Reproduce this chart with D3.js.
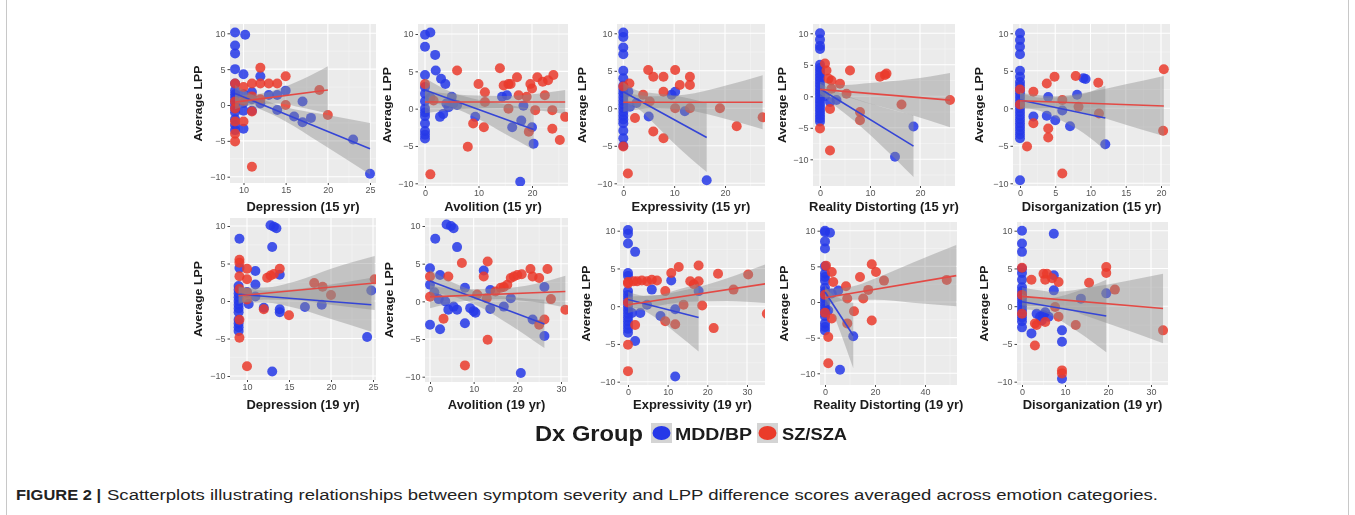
<!DOCTYPE html>
<html><head><meta charset="utf-8">
<script src="https://cdn.jsdelivr.net/npm/d3@7"></script>
<style>body{margin:0;background:#fff}svg{display:block}</style></head>
<body>
<svg id="c" width="1355" height="515"></svg>
<script>
// ---------- DATA ----------
const xTitles = ["Depression (15 yr)","Avolition (15 yr)","Expressivity (15 yr)","Reality Distorting (15 yr)","Disorganization (15 yr)",
                 "Depression (19 yr)","Avolition (19 yr)","Expressivity (19 yr)","Reality Distorting (19 yr)","Disorganization (19 yr)"];
const yTitle = "Average LPP";
const yTicks = [-10,-5,0,5,10];
const xTickSets = [[10,15,20,25],[0,10,20],[0,10,20],[0,10,20],[0,5,10,15,20],
                   [10,15,20,25],[0,10,20,30],[0,10,20,30],[0,20,40],[0,10,20,30]];
const groups = ["MDD/BP","SZ/SZA"];
const legendTitle = "Dx Group";
const captionLead = "FIGURE 2 |";
const captionText = "Scatterplots illustrating relationships between symptom severity and LPP difference scores averaged across emotion categories.";

// Panel 1: Depression 15
const mdd_dep15 = [[9,10.1],[10.2,9.8],[9,8.3],[9,7.2],[9,5],[10,4.3],[12,4],[9,3],[9,2],[9,1.5],[9,1],[9,0.5],[9,0],[9,-0.5],[9,-1],[9,-2],[9,-2.8],[9,-3.5],[10,-0.8],[10,-3.3],[10,1.5],[11,1.8],[11,-0.8],[12,0.2],[13,1.4],[14,1.4],[14,-0.7],[15,2],[16,-1.6],[17,0.5],[17,-2.4],[18,-1.8],[23,-4.8],[25,-9.6],[10,0.3],[11,0.8]];
const sz_dep15 = [[9,3],[9,0.5],[9,-0.5],[9,-2.3],[9,-4],[9,-5.1],[10,-2.3],[10,0.6],[11,3],[11,-0.9],[11,-8.6],[12,5.2],[12,3],[13,3],[14,3],[15,4],[15,0],[19,2.1],[20,-1.4],[10,2.5],[11,1.2],[12,0.8]];
const mddFit_dep15 = [[9,1.6],[25,-6.1]];
const szFit_dep15 = [[9,0.4],[20,2.1]];
const mddBand_dep15 = [[9,0.4,2.8],[12,-0.6,0.9],[15,-2.3,-0.3],[19,-5.2,-1.2],[25,-9.7,-2.5]];
const szBand_dep15 = [[9,-0.6,1.4],[11.5,0.1,1.5],[14,0.2,2.2],[17,-0.4,3.6],[20,-1.2,5.4]];

// Panel 2: Avolition 15
const mdd_avo15 = [[0,9.9],[1,10.2],[0,8.3],[1.9,7.2],[2,5.1],[3,4],[3.8,3.3],[0,4.5],[0,2.9],[0,2],[0,1],[0,0],[0,-0.5],[0,-1],[0,-2],[0,-3],[0,-3.5],[0,-4],[2.8,-1.1],[3.4,-0.7],[4,0.7],[5,1.6],[5.3,0.7],[4.4,0.2],[9.4,-1.1],[15.3,1.8],[14.4,1.6],[16.3,-2.5],[18,-1.6],[18.4,0.4],[20,-2.5],[20.3,-4.7],[17.8,-9.8],[1,1.5],[6,0.5]];
const sz_avo15 = [[0,3.3],[1,-8.8],[6,5.1],[8,-5.1],[9,-2],[10,3.3],[11,-2.5],[11.2,2.2],[14,5.4],[14.7,3.1],[15.6,3.3],[16,3.3],[17.2,4.2],[17.5,1.8],[19,1.6],[19.7,3.3],[20,2.7],[21,4.2],[22,3.6],[24,4.5],[23.8,-2.7],[23.8,-0.2],[20.6,-0.2],[19.4,-3.1],[15.6,0],[11.2,0.9],[1.6,1.1],[23,3.8],[26.2,-1.1],[25.2,-4.2],[22.4,1.8]];
const mddFit_avo15 = [[0,2.5],[20.3,-2.8]];
const szFit_avo15 = [[0,0.9],[26.2,0.9]];
const mddBand_avo15 = [[0,0.9,4.1],[5,0.2,2.2],[10,-1.4,1.2],[15,-3.4,0.6],[20.3,-5.5,-0.1]];
const szBand_avo15 = [[0,-0.6,2.4],[8,0,1.8],[15,0.1,1.7],[21,-0.2,2.0],[26.2,-0.7,2.5]];

// Panel 3: Expressivity 15
const mdd_exp15 = [[0,10.1],[0,9.5],[0,8.1],[0,7.2],[0,5],[0,4],[0,3],[0,2.5],[0,2],[0,1.5],[0,1],[0,0.5],[0,0],[0,-0.5],[0,-1],[0,-1.5],[0,-2],[0,-3],[0,-4],[0,-5],[1,2.2],[1.3,0.2],[5,-1.1],[9.5,1.8],[10.2,2.2],[12.1,-0.4],[16.4,-9.6],[2.6,0.7]];
const sz_exp15 = [[0,-5.1],[0.9,-8.7],[1.2,3.3],[2.3,-1.3],[3.9,1.8],[4.9,5.1],[5.9,4.2],[5.9,-3.1],[7.9,4.2],[7.9,2.2],[7.9,-4],[10.2,5.1],[11.1,3.1],[13.1,4.2],[13.1,3.1],[10.2,0],[13.1,0],[19,0],[22.3,-2.4],[27.4,-1.2],[5.2,0.9],[0,2.9]];
const mddFit_exp15 = [[0,2.2],[16.4,-3.9]];
const szFit_exp15 = [[0,0.8],[27.4,0.8]];
const mddBand_exp15 = [[0,0.9,3.5],[3,-0.1,2.3],[6,-2.0,2.0],[10,-4.7,1.7],[16.4,-8.5,0.7]];
const szBand_exp15 = [[0,-0.5,2.1],[6,0,1.6],[12,-0.2,1.8],[20,-1.4,3.0],[27.4,-2.8,4.4]];

// Panel 4: Reality Distorting 15
const mdd_rea15 = [[0,10],[0,9],[0,8],[0,7.5],[0,5],[0,4.5],[0,4],[0,3.5],[0,3],[0,2.5],[0,2],[0,1.5],[0,1],[0,0.5],[0,0],[0,-0.5],[0,-1],[0,-1.5],[0,-2],[0,-2.5],[0,-3],[0,-3.5],[0,-4],[2,-0.9],[3.3,-0.6],[18.7,-4.8],[15,-9.6],[1,0]];
const sz_rea15 = [[0,-5.1],[1,5.2],[1.3,4.1],[1.7,2.8],[2.3,2.5],[2,-2],[2,-8.6],[4,2],[5.3,0.4],[6,4.1],[8,-2.5],[8,-3.8],[12,3.1],[13,3.4],[13.3,3.6],[16.3,-1.3],[2.3,1.2],[26,-0.6]];
const mddFit_rea15 = [[0,1.2],[18.7,-7.9]];
const szFit_rea15 = [[0,1.1],[26,-0.6]];
const mddBand_rea15 = [[0,0.4,2.0],[3,-1.5,0.9],[7,-4,-0.4],[12,-7.6,-1.6],[18.7,-12.8,-3.0]];
const szBand_rea15 = [[0,-0.1,2.3],[5,-0.2,1.8],[10,-1.2,2.1],[18,-2.9,2.7],[26,-4.9,3.7]];

// Panel 5: Disorganization 15
const mdd_dis15 = [[0,10],[0,9.1],[0,8.2],[0,7.2],[0,5],[0,4.2],[0,3.5],[0,3],[0,2.5],[0,2],[0,1.5],[0,1],[0,0.5],[0,0],[0,-0.5],[0,-1],[0,-1.5],[0,-2],[0,-2.5],[0,-3],[0,-3.5],[0,-4],[0,-9.6],[1.9,-1.1],[3.8,-1],[5,-1.6],[4,1.5],[6,-0.3],[7.1,-2.4],[8.1,1.8],[9,4],[9.3,3.9],[12.1,-4.8]];
const sz_dis15 = [[1,-5.1],[1.9,2.2],[1.9,-2],[3.8,3.3],[4,-2.7],[4,-3.9],[4.9,4.2],[6,1.1],[6,-8.7],[7.9,4.3],[8.3,0.2],[11.1,3.4],[11.2,-0.7],[20.4,5.2],[20.3,-3.0],[0,2.5],[0,0.5]];
const mddFit_dis15 = [[0,1.1],[12.1,-1.3]];
const szFit_dis15 = [[0,1.0],[20.4,0.3]];
const mddBand_dis15 = [[0,0.1,2.1],[3,-0.4,1.4],[6,-1.7,1.5],[9,-3.3,1.9],[12.1,-5.6,3.0]];
const szBand_dis15 = [[0,-0.1,2.1],[5,0,1.6],[10,-0.8,2.2],[15,-2.2,3.2],[20.4,-3.7,4.3]];

// Panel 6: Depression 19
const mdd_dep19 = [[9.1,8.3],[12.8,10.1],[13.2,9.9],[13.5,9.7],[13,7.2],[9.1,4.4],[11,4],[9,2],[9,1.5],[9,1],[9,0.5],[9,0],[9,-0.5],[9,-1],[9,-1.5],[9,-2.5],[9,-3],[9,-3.5],[9,-4],[10.2,-0.4],[11,2.2],[12,-0.9],[13.9,3.5],[13.9,-1.1],[13.9,-1.5],[16.9,-0.8],[18.9,-0.5],[13,-9.4],[24.8,1.4],[24.3,-4.8],[10,1.2],[11,0.6]];
const sz_dep19 = [[9.1,5.5],[9.1,5.1],[9.1,3.3],[9.1,1.6],[9.1,-4.9],[10,-8.7],[10,4.3],[10,2.9],[10,1.1],[12.4,3.1],[12.8,3.4],[13.2,3.6],[13.9,4.3],[12,-1.1],[15,-1.9],[18,2.4],[19,1.9],[20,0.8],[25.2,2.9],[9.1,-2.5],[10,0.2]];
const mddFit_dep19 = [[9,0.9],[24.8,-0.5]];
const szFit_dep19 = [[9,0.7],[25.2,2.4]];
const mddBand_dep19 = [[9,-0.2,2.0],[12,-0.2,1.4],[16,-1.0,1.6],[20,-2.4,2.2],[24.8,-4.1,3.1]];
const szBand_dep19 = [[9,-0.4,1.8],[12,0.2,1.8],[16,0.1,2.7],[20,-0.5,4.3],[25.2,-1.2,6.0]];

// Panel 7: Avolition 19
const mdd_avo19 = [[3.8,10.2],[4.8,10],[5.4,9.7],[1.2,8.3],[6.2,7.2],[0,4.4],[2.3,3.5],[0,2.2],[0,-3.1],[2.3,-3.7],[3.5,0],[4.2,-1.1],[6.2,-1.1],[8,1.8],[8,-2.9],[9.2,-0.9],[10,-1.3],[10.4,-1.5],[12.3,4.1],[13.8,1.5],[13.8,-1],[16.9,-0.7],[18.5,0.4],[20.8,-9.5],[26.2,1.9],[26.2,-4.6],[5.4,-0.7],[23.5,-2.4],[1,1.2],[2,0.3]];
const sz_avo19 = [[0,3.3],[0,0.6],[3.1,-2.3],[4.2,3.3],[7.3,5.1],[8,-8.5],[12.3,3.3],[13.2,5.3],[13.2,-5.1],[10.8,0.9],[16.2,1.8],[16.9,1.9],[17.7,2.2],[18.5,3.1],[19.2,3.3],[20,3.5],[23,4.3],[23.5,3.3],[25,3.1],[26.9,4.3],[26.2,-2.4],[25,-3.1],[27.7,0.3],[31,-1.1],[13,0.4],[15,1.3],[21,3.6]];
const mddFit_avo19 = [[0,2.7],[26.2,-3.0]];
const szFit_avo19 = [[0,0.6],[31,1.3]];
const mddBand_avo19 = [[0,1.2,4.2],[6,0.5,2.3],[12,-0.9,1.1],[18,-3.0,0.6],[26.2,-6.2,0.2]];
const szBand_avo19 = [[0,-0.9,2.1],[8,0,1.6],[16,0.3,1.7],[24,-0.1,2.3],[31,-0.8,3.4]];

// Panel 8: Expressivity 19
const mdd_exp19 = [[0,10.1],[0,9.6],[0,8.3],[0,4.4],[0,4],[0,2],[0,1.5],[0,1],[0,0.5],[0,0],[0,-0.5],[0,-1],[0,-1.5],[0,-2],[0,-2.5],[0,-3],[0,-3.5],[1.8,7.2],[1.8,-4.6],[1,-0.9],[3.1,-0.9],[6,2.2],[8.2,-1.3],[10.9,3.4],[11.9,-0.4],[11.9,-9.3],[17.8,2],[4.8,0.2]];
const sz_exp19 = [[0,3.2],[0,3],[1.4,3.3],[2.3,3.3],[3.5,3.4],[4.8,3.3],[6,3.5],[7.3,3.4],[0,-5.1],[0,-8.6],[1.8,-2.5],[9.4,2],[9.4,-2],[10.9,4.4],[12.8,5.2],[11.9,-2.4],[14,0.2],[15.7,3.3],[16.6,2.9],[17.8,5.4],[17.8,3.3],[18.7,0.1],[21.6,-2.9],[22.7,4.3],[26.6,2.2],[30.3,4.2],[35,-1],[0,0.5]];
const mddFit_exp19 = [[0,0.9],[17.8,-1.5]];
const szFit_exp19 = [[0,0.2],[35,3.0]];
const mddBand_exp19 = [[0,-0.1,1.9],[4,-0.6,1.4],[8,-1.9,1.5],[12,-3.5,2.1],[17.8,-6.0,3.0]];
const szBand_exp19 = [[0,-0.9,1.3],[8,0.1,1.5],[15,0.6,2.2],[25,0.7,3.7],[35,0.4,5.6]];

// Panel 9: Reality Distorting 19
const mdd_rea19 = [[0,10],[0,9.8],[0,8.5],[0,7.5],[0,5],[0,4],[0,3.5],[0,3],[0,2],[0,1.5],[0,1],[0,0.5],[0,0],[0,-0.5],[0,-1],[0,-1.5],[0,-2],[0,-3],[0,-3.5],[0,-4],[2,9.7],[6,-9.5],[11.3,-4.8],[1.3,-1.2],[5.3,1.6],[2.7,1.2]];
const sz_rea19 = [[0.4,5.1],[2.7,4.2],[1.3,-4.9],[1.3,-8.6],[2.7,-2.3],[8.4,2.2],[8.9,0.5],[8.9,-3],[11.6,-1.3],[14,3.5],[15.3,0.5],[17.3,1.7],[18.7,5.3],[18.7,-2.6],[20.4,4.2],[23.6,3],[48.7,3.1],[3.3,2.8],[0,1],[0,-1.5]];
const mddFit_rea19 = [[0,1.4],[11.3,-4.7]];
const szFit_rea19 = [[0,0.6],[52.5,3.7]];
const mddBand_rea19 = [[0,0.5,2.3],[3,-1.4,1.0],[6,-4.1,0.5],[9,-7,0],[11.3,-9.3,-0.1]];
const szBand_rea19 = [[0,-0.6,1.8],[10,0.3,2.1],[20,0.3,3.3],[35,-0.1,5.5],[52.5,-0.6,8.0]];

// Panel 10: Disorganization 19
const mdd_dis19 = [[0,10],[0,8.3],[0,7.2],[0,5],[0,4.4],[0,3.5],[0,2.5],[0,2],[0,1.5],[0,1],[0,0.5],[0,0],[0,-0.5],[0,-1],[0,-1.5],[0,-2],[0,-2.8],[7.4,9.6],[2.2,-3.6],[3.4,-1],[4.2,-1.4],[5,-1.2],[5.4,-0.8],[6.2,-1.4],[7.4,4.1],[7.4,2.1],[9.3,-3.2],[9.3,-4.7],[9.3,-9.6],[13.7,1],[19.6,1.7],[4.6,-1.9]];
const sz_dis19 = [[0,5.1],[2.2,3.5],[3,-2.3],[3.4,-2.5],[3,-5.2],[5,4.3],[5.4,3.5],[5.8,4.3],[7,3.7],[8.5,3.2],[7.7,-0.1],[8.5,-1.4],[5.4,-2.1],[9.3,-8.5],[9.3,-8.9],[12.5,-2.5],[15.6,3.1],[19.6,5.2],[19.6,4.4],[21.6,2.2],[32.8,-3.2],[0,1.5],[0,-1]];
const mddFit_dis19 = [[0,0.6],[19.6,-1.3]];
const szFit_dis19 = [[0,1.3],[32.8,-0.3]];
const mddBand_dis19 = [[0,-0.4,1.6],[4,-0.6,1.0],[8,-1.6,1.2],[13,-3.4,2.0],[19.6,-6.1,3.5]];
const szBand_dis19 = [[0,0.1,2.5],[8,-0.1,1.9],[16,-1.5,2.5],[24,-3.1,3.3],[32.8,-4.9,4.3]];

// ---------- LAYOUT (pixel geometry, separate from data) ----------
const layout = [
 {rx:230,rw:146,ry:24,rh:159,xa:[10,25],xp:[243.5,370],yp:[33.3,176.7],yt:202,xt:211},
 {rx:418,rw:150,ry:24,rh:162,xa:[0,20],xp:[425,532],yp:[34,183.3],yt:391,xt:211},
 {rx:617,rw:148,ry:24,rh:162,xa:[0,20],xp:[623.3,725],yp:[33.3,183.3],yt:586,xt:211},
 {rx:813,rw:142,ry:24,rh:162,xa:[0,20],xp:[820,920],yp:[33.3,159.3],yt:786,xt:211},
 {rx:1013,rw:157,ry:24,rh:162,xa:[0,20],xp:[1020,1161],yp:[33.3,183.3],yt:983,xt:211},
 {rx:230,rw:146,ry:218,rh:162,xa:[10,25],xp:[247,373],yp:[226,376],yt:202,xt:409},
 {rx:425,rw:143,ry:218,rh:164,xa:[0,30],xp:[430,561],yp:[226,376.7],yt:393,xt:409},
 {rx:620,rw:145,ry:222,rh:163,xa:[0,30],xp:[628,747],yp:[230.7,381.7],yt:590,xt:409},
 {rx:820,rw:137,ry:222,rh:163,xa:[0,40],xp:[825,925],yp:[230.7,373.3],yt:788,xt:409},
 {rx:1017,rw:151,ry:222,rh:163,xa:[0,30],xp:[1022,1151],yp:[230.7,381.7],yt:988,xt:409}
];

const panels = [
 {mdd:mdd_dep15,sz:sz_dep15,mf:mddFit_dep15,sf:szFit_dep15,mb:mddBand_dep15,sb:szBand_dep15},
 {mdd:mdd_avo15,sz:sz_avo15,mf:mddFit_avo15,sf:szFit_avo15,mb:mddBand_avo15,sb:szBand_avo15},
 {mdd:mdd_exp15,sz:sz_exp15,mf:mddFit_exp15,sf:szFit_exp15,mb:mddBand_exp15,sb:szBand_exp15},
 {mdd:mdd_rea15,sz:sz_rea15,mf:mddFit_rea15,sf:szFit_rea15,mb:mddBand_rea15,sb:szBand_rea15},
 {mdd:mdd_dis15,sz:sz_dis15,mf:mddFit_dis15,sf:szFit_dis15,mb:mddBand_dis15,sb:szBand_dis15},
 {mdd:mdd_dep19,sz:sz_dep19,mf:mddFit_dep19,sf:szFit_dep19,mb:mddBand_dep19,sb:szBand_dep19},
 {mdd:mdd_avo19,sz:sz_avo19,mf:mddFit_avo19,sf:szFit_avo19,mb:mddBand_avo19,sb:szBand_avo19},
 {mdd:mdd_exp19,sz:sz_exp19,mf:mddFit_exp19,sf:szFit_exp19,mb:mddBand_exp19,sb:szBand_exp19},
 {mdd:mdd_rea19,sz:sz_rea19,mf:mddFit_rea19,sf:szFit_rea19,mb:mddBand_rea19,sb:szBand_rea19},
 {mdd:mdd_dis19,sz:sz_dis19,mf:mddFit_dis19,sf:szFit_dis19,mb:mddBand_dis19,sb:szBand_dis19}
];

const BLUE = "#2638e8", RED = "#ea3a2c", BLUE_LINE = "#3545d6", RED_LINE = "#e34a45";
const FONT = "Liberation Sans, Arial, sans-serif";

const svg = d3.select("#c");
const defs = svg.append("defs");
defs.append("filter").attr("id","soft").append("feGaussianBlur").attr("stdDeviation",0.45);

// outer frame
svg.append("rect").attr("x",6.5).attr("y",-4).attr("width",1342).attr("height",530)
  .attr("fill","none").attr("stroke","#c8c8c8").attr("stroke-width",1);

const root = svg.append("g").attr("filter","url(#soft)");

function stretch(sel, k){
  sel.each(function(){ const w=this.getComputedTextLength(); d3.select(this).attr("textLength",w*k).attr("lengthAdjust","spacingAndGlyphs"); });
}

panels.forEach((p,i)=>{
  const L = layout[i];
  const x = d3.scaleLinear().domain(L.xa).range(L.xp);
  const y = d3.scaleLinear().domain([10,-10]).range(L.yp);
  const g = root.append("g");
  defs.append("clipPath").attr("id","cp"+i).append("rect")
     .attr("x",L.rx).attr("y",L.ry).attr("width",L.rw).attr("height",L.rh);
  g.append("rect").attr("x",L.rx).attr("y",L.ry).attr("width",L.rw).attr("height",L.rh).attr("fill","#ebebeb");
  const xt = xTickSets[i];
  const x0 = x.invert(L.rx), x1 = x.invert(L.rx+L.rw);
  const step = xt[1]-xt[0];
  const minorX = [];
  for(let v = xt[0]-step/2; v<=x1; v+=step) if(v>=x0) minorX.push(v);
  const minorY = [-12.5,-7.5,-2.5,2.5,7.5,12.5];
  const grid = g.append("g").attr("clip-path",`url(#cp${i})`);
  grid.selectAll(".mx").data(minorX).join("line").attr("x1",d=>x(d)).attr("x2",d=>x(d)).attr("y1",L.ry).attr("y2",L.ry+L.rh).attr("stroke","#f5f5f5").attr("stroke-width",0.6);
  grid.selectAll(".my").data(minorY).join("line").attr("y1",d=>y(d)).attr("y2",d=>y(d)).attr("x1",L.rx).attr("x2",L.rx+L.rw).attr("stroke","#f5f5f5").attr("stroke-width",0.6);
  grid.selectAll(".Mx").data(xt).join("line").attr("x1",d=>x(d)).attr("x2",d=>x(d)).attr("y1",L.ry).attr("y2",L.ry+L.rh).attr("stroke","#fff").attr("stroke-width",1.1);
  grid.selectAll(".My").data(yTicks).join("line").attr("y1",d=>y(d)).attr("y2",d=>y(d)).attr("x1",L.rx).attr("x2",L.rx+L.rw).attr("stroke","#fff").attr("stroke-width",1.1);

  const pg = g.append("g").attr("clip-path",`url(#cp${i})`);
  pg.selectAll(".pb").data(p.mdd).join("circle").attr("cx",d=>x(d[0])).attr("cy",d=>y(d[1])).attr("r",5)
    .attr("fill",BLUE).attr("fill-opacity",0.85);
  pg.selectAll(".pr").data(p.sz).join("circle").attr("cx",d=>x(d[0])).attr("cy",d=>y(d[1])).attr("r",5)
    .attr("fill",RED).attr("fill-opacity",0.85);

  const area = d3.area().x(d=>x(d[0])).y0(d=>y(d[1])).y1(d=>y(d[2])).curve(d3.curveMonotoneX);
  pg.append("path").attr("d",area(p.mb)).attr("fill","#8c8c8c").attr("fill-opacity",0.42);
  pg.append("path").attr("d",area(p.sb)).attr("fill","#8c8c8c").attr("fill-opacity",0.42);
  const line = d3.line().x(d=>x(d[0])).y(d=>y(d[1]));
  pg.append("path").attr("d",line(p.mf)).attr("stroke",BLUE_LINE).attr("stroke-width",1.6).attr("fill","none");
  pg.append("path").attr("d",line(p.sf)).attr("stroke",RED_LINE).attr("stroke-width",1.6).attr("fill","none");

  // axes
  const ay = g.append("g").attr("transform",`translate(${L.rx},0)`)
    .call(d3.axisLeft(y).tickValues(yTicks).tickSize(2.5).tickPadding(2));
  const ax = g.append("g").attr("transform",`translate(0,${L.ry+L.rh})`)
    .call(d3.axisBottom(x).tickValues(xt).tickSize(2).tickPadding(1.5));
  [ay,ax].forEach(a=>{
    a.select(".domain").remove();
    a.selectAll(".tick line").attr("stroke","#444");
    a.selectAll("text").attr("font-family",FONT).attr("font-size",9).attr("fill","#555");
  });
  // titles
  const xtT = g.append("text").attr("x",L.rx+L.rw/2).attr("y",L.xt).attr("text-anchor","middle")
    .attr("font-family",FONT).attr("font-weight","bold").attr("font-size",12).attr("fill","#1a1a1a").text(xTitles[i]);
  stretch(xtT,1.08);
  const ytT = g.append("text").attr("transform",`translate(${L.yt},${L.ry+L.rh/2}) rotate(-90)`).attr("text-anchor","middle")
    .attr("font-family",FONT).attr("font-weight","bold").attr("font-size",11.5).attr("fill","#1a1a1a").text(yTitle);
  stretch(ytT,1.08);
});

// legend
const lg = root.append("g");
const lt = lg.append("text").attr("x",535).attr("y",441).attr("font-family",FONT).attr("font-weight","bold")
  .attr("font-size",22).attr("fill","#1a1a1a").text(legendTitle);
lt.attr("textLength",108).attr("lengthAdjust","spacingAndGlyphs");
const keys = [{c:BLUE,kx:651,tx:675,tw:77},{c:RED,kx:757,tx:782,tw:65}];
keys.forEach((k,j)=>{
  lg.append("rect").attr("x",k.kx).attr("y",423).attr("width",21).attr("height",20).attr("fill","#d4d4d4");
  lg.append("ellipse").attr("cx",k.kx+10.5).attr("cy",433).attr("rx",9).attr("ry",7).attr("fill",k.c);
  lg.append("text").attr("x",k.tx).attr("y",440).attr("font-family",FONT).attr("font-weight","bold")
    .attr("font-size",16).attr("fill","#1a1a1a").text(groups[j])
    .attr("textLength",k.tw).attr("lengthAdjust","spacingAndGlyphs");
});

// caption
svg.append("text").attr("x",16).attr("y",500).attr("font-family",FONT).attr("font-weight","bold")
  .attr("font-size",14).attr("fill","#222").text(captionLead).attr("textLength",85).attr("lengthAdjust","spacingAndGlyphs");
svg.append("text").attr("x",107).attr("y",500).attr("font-family",FONT)
  .attr("font-size",14).attr("fill","#222").text(captionText).attr("textLength",1051).attr("lengthAdjust","spacingAndGlyphs");
</script>
</body></html>
